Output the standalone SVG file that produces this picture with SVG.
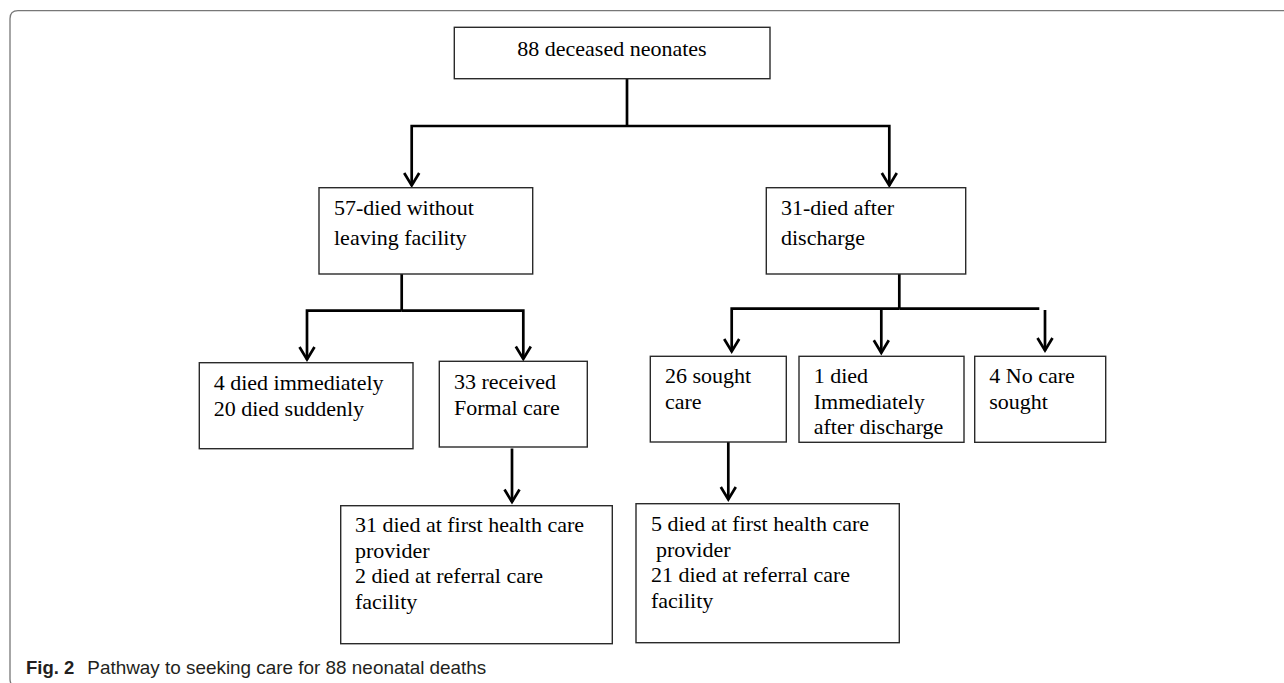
<svg xmlns="http://www.w3.org/2000/svg" width="1284" height="683" viewBox="0 0 1284 683">
<style>
.box{fill:#fff;stroke:#2a2a2a;stroke-width:1.4}
.t{font-family:"Liberation Serif","Times New Roman",serif;font-size:22px;fill:#000}
.c{fill:none;stroke:#000;stroke-width:2.7;stroke-linejoin:miter}
.cap{font-family:"Liberation Sans",Arial,sans-serif;font-size:18.5px;fill:#231f20}
</style>
<defs>
<marker id="ah" markerUnits="userSpaceOnUse" markerWidth="30" markerHeight="30" refX="0" refY="0" viewBox="-20 -15 30 30" orient="auto" overflow="visible">
<path d="M-12.5,-7.5 L0,0 L-12.5,7.5" fill="none" stroke="#000" stroke-width="2.7" stroke-linejoin="miter"/>
</marker>
</defs>
<rect x="0" y="0" width="1284" height="683" fill="#fff"/>
<path d="M1284,10.7 H18 Q10,10.7 10,18.7 V679 Q10,687 18,687" fill="none" stroke="#777" stroke-width="1.3"/>

<g id="connectors">
<path class="c" d="M627,78.7 V126"/>
<path class="c" d="M627,126 H411.7 V185.5" marker-end="url(#ah)"/>
<path class="c" d="M627,126 H889.3 V185.5" marker-end="url(#ah)"/>
<path class="c" d="M401.7,274 V310.7"/>
<path class="c" d="M401.7,310.7 H307 V359.5" marker-end="url(#ah)"/>
<path class="c" d="M401.7,310.7 H523.3 V359" marker-end="url(#ah)"/>
<path class="c" d="M512,448.5 V502" marker-end="url(#ah)"/>
<path class="c" d="M899.3,274 V308.7"/>
<path class="c" d="M899.3,308.7 H731.7 V351.5" marker-end="url(#ah)"/>
<path class="c" d="M899.3,308.7 H1039.3"/>
<path class="c" d="M881.3,308.7 V352.8" marker-end="url(#ah)"/>
<path class="c" d="M1045,310 V350.5" marker-end="url(#ah)"/>
<path class="c" d="M728.3,442 V499.5" marker-end="url(#ah)"/>
</g>

<g id="n-root">
<rect class="box" x="454.3" y="27.3" width="315.7" height="51.4"/>
<text class="t" x="517.3" y="56">88 deceased neonates</text>
</g>

<g id="n-without">
<rect class="box" x="319" y="187.7" width="213.7" height="86.3"/>
<text class="t" x="334" y="215">57-died without</text>
<text class="t" x="334" y="245">leaving facility</text>
</g>

<g id="n-after">
<rect class="box" x="766.3" y="187.7" width="199.4" height="86.3"/>
<text class="t" x="781" y="215">31-died after</text>
<text class="t" x="781" y="245">discharge</text>
</g>

<g id="n-immediate">
<rect class="box" x="199.3" y="362.7" width="213.7" height="86"/>
<text class="t" x="213.7" y="390">4 died immediately</text>
<text class="t" x="213.7" y="416">20 died suddenly</text>
</g>

<g id="n-formal">
<rect class="box" x="439.3" y="361.3" width="148" height="85.7"/>
<text class="t" x="454" y="389.3">33 received</text>
<text class="t" x="454" y="415">Formal care</text>
</g>

<g id="n-sought">
<rect class="box" x="650.3" y="356.3" width="136" height="85.7"/>
<text class="t" x="665" y="383.3">26 sought</text>
<text class="t" x="665" y="409">care</text>
</g>

<g id="n-died-discharge">
<rect class="box" x="799" y="356.3" width="165" height="86"/>
<text class="t" x="813.7" y="383.3">1 died</text>
<text class="t" x="813.7" y="409">Immediately</text>
<text class="t" x="813.7" y="434.3">after discharge</text>
</g>

<g id="n-nocare">
<rect class="box" x="974.7" y="356.3" width="131" height="86"/>
<text class="t" x="989.3" y="383.3">4 No care</text>
<text class="t" x="989.3" y="409">sought</text>
</g>

<g id="n-formal-outcome">
<rect class="box" x="340.7" y="505.7" width="271.6" height="138"/>
<text class="t" x="355" y="532.3">31 died at first health care</text>
<text class="t" x="355" y="557.7">provider</text>
<text class="t" x="355" y="583.3">2 died at referral care</text>
<text class="t" x="355" y="608.7">facility</text>
</g>

<g id="n-sought-outcome">
<rect class="box" x="636" y="503.7" width="263.3" height="139"/>
<text class="t" x="651" y="531.3">5 died at first health care</text>
<text class="t" x="656" y="557">provider</text>
<text class="t" x="651" y="582.3">21 died at referral care</text>
<text class="t" x="651" y="608">facility</text>
</g>

<g id="caption">
<text class="cap" x="26" y="673.5" font-weight="bold">Fig. 2</text>
<text class="cap" x="87.3" y="673.5" textLength="399" lengthAdjust="spacingAndGlyphs">Pathway to seeking care for 88 neonatal deaths</text>
</g>
</svg>
